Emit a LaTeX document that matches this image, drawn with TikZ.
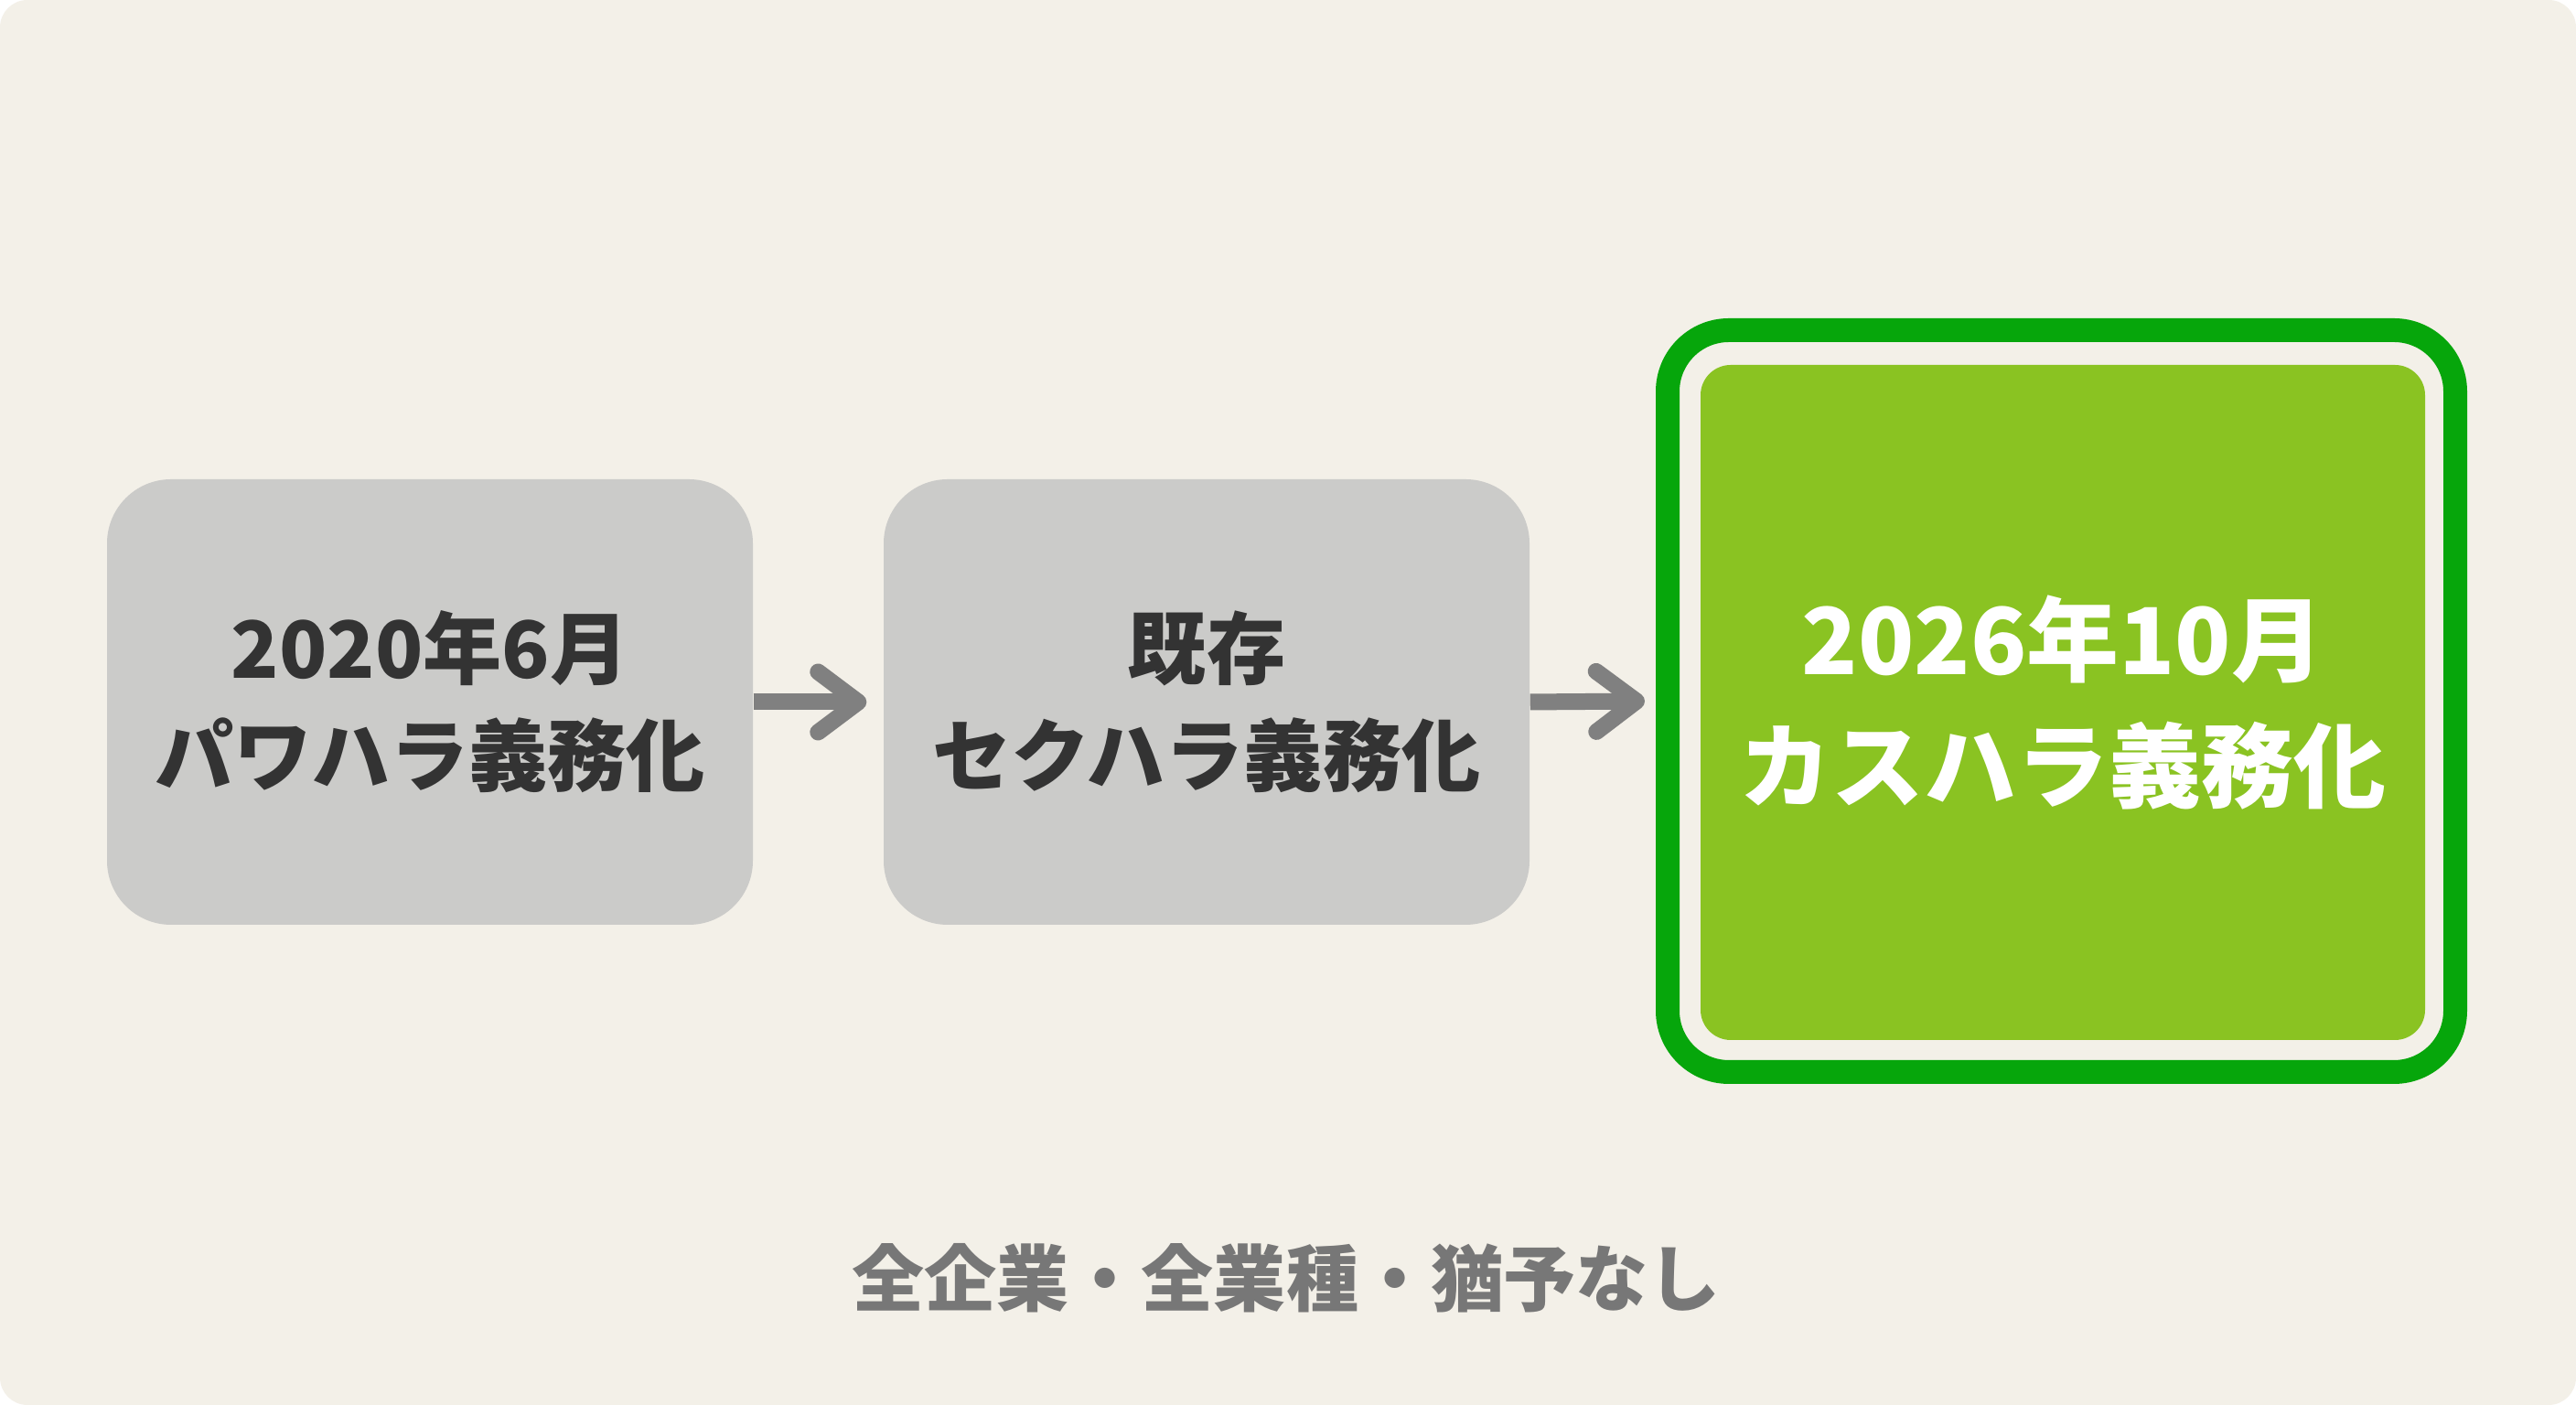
\documentclass[tikz,border=0pt]{standalone}
\usepackage{fontspec}
\newfontfamily\jpfont{Noto Sans CJK JP}
\usetikzlibrary{arrows.meta}
\definecolor{bgbeige}{HTML}{F3F0E8}
\definecolor{stepgray}{HTML}{CBCBC9}
\definecolor{textdark}{HTML}{333333}
\definecolor{arrowgray}{HTML}{808080}
\definecolor{framegreen}{HTML}{06A60B}
\definecolor{kasugreen}{HTML}{8AC322}
\definecolor{notegray}{HTML}{777777}
\begin{document}
\begin{tikzpicture}

  \useasboundingbox (0,0) rectangle (28.16,15.36);
  \fill[white] (0,0) rectangle (28.16,15.36);
  \fill[bgbeige, rounded corners=0.3cm] (0,0) rectangle (28.16,15.36);

  \begin{scope}[every node/.style={rounded corners=0.7cm,fill=stepgray,text=textdark,
      minimum width=7.06cm,minimum height=4.87cm,align=center,
      font=\jpfont\bfseries\fontsize{24.5}{33.2}\selectfont}]
    \node (1) at (4.70,7.685)  {2020年6月\\パワハラ義務化};
    \node (2) at (13.19,7.685) {既存\\セクハラ義務化};
  \end{scope}

  \node (frame) [draw=framegreen,line width=0.26cm,rounded corners=0.67cm,
    minimum width=8.61cm,minimum height=8.11cm] at (22.535,7.695) {};
  \node (3) [fill=kasugreen,rounded corners=0.33cm,minimum width=7.92cm,
    minimum height=7.38cm,text=white,align=center,
    font=\jpfont\bfseries\fontsize{28.7}{39.1}\selectfont] at (22.55,7.68)
    {2026年10月\\カスハラ義務化};

  \begin{scope}[every path/.style={draw=arrowgray,line width=0.18cm,
      -{Straight Barb[length=4.4mm,width=6.6mm,round]}}]
    \path (1.east) -- ([xshift=-1.8mm]2.west);
    \path (2.east) -- ([xshift=-1.2mm]frame.west);
  \end{scope}

  \node (note) [text=notegray,font=\jpfont\bfseries\fontsize{22.5}{27}\selectfont]
    at (14.06,1.39) {全企業・全業種・猶予なし};

\end{tikzpicture}
\end{document}
